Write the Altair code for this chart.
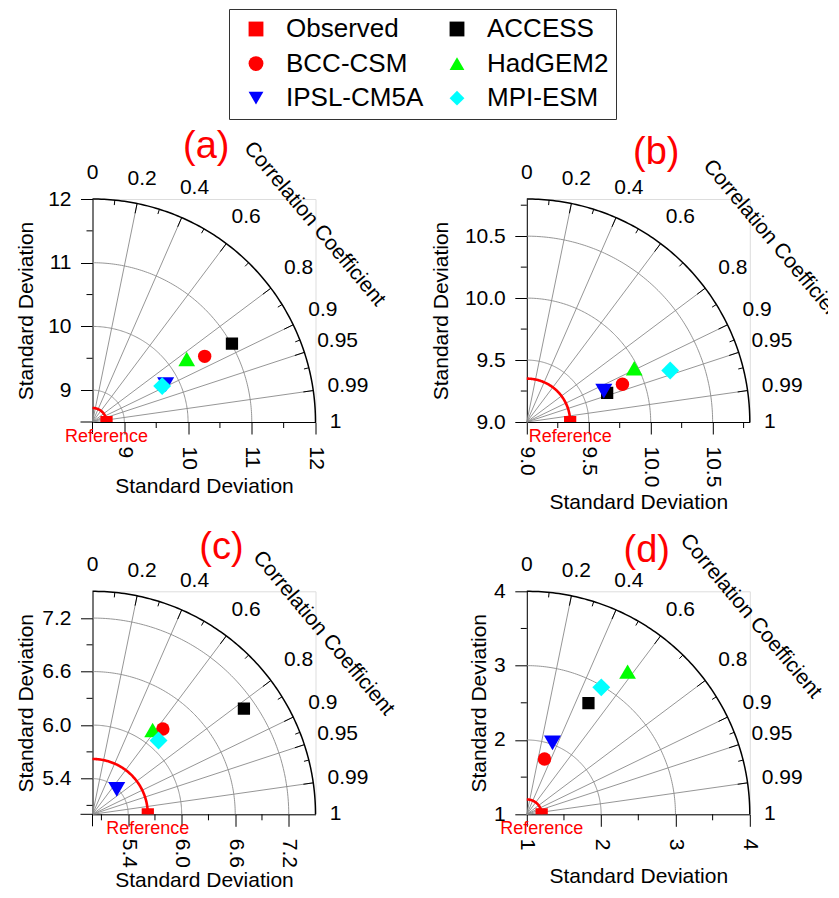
import numpy as np
import pandas as pd
import altair as alt

FONT = "Liberation Sans"
R = 223.0  # plot-area side in px

# ---------------- data ----------------
panel_names = ["(a)", "(b)", "(c)", "(d)"]
origins = [8.5, 9.0, 5.0, 1.0]
maxima = [12.0, 10.8, 7.5, 4.0]
major_ticks = [[9, 10, 11, 12], [9.0, 9.5, 10.0, 10.5], [5.4, 6.0, 6.6, 7.2], [1, 2, 3, 4]]
minor_ticks = [[9.5, 10.5, 11.5], [9.25, 9.75, 10.25, 10.75], [5.1, 5.7, 6.3, 6.9], [1.5, 2.5, 3.5]]
tick_formats = ["d", ".1f", ".1f", "d"]

observed_sd = [8.72, 9.35, 5.62, 1.2]
models = ["ACCESS", "BCC-CSM", "HadGEM2", "IPSL-CM5A", "MPI-ESM"]
model_sd = [
    [11.01, 10.54, 10.28, 9.79, 9.73],
    [9.69, 9.83, 9.97, 9.67, 10.23],
    [7.07, 6.24, 6.16, 5.39, 6.11],
    [2.71, 1.78, 3.35, 2.02, 2.98],
]
model_corr = [
    [0.872, 0.863, 0.831, 0.890, 0.889],
    [0.940, 0.930, 0.894, 0.928, 0.941],
    [0.820, 0.636, 0.581, 0.697, 0.667],
    [0.485, 0.305, 0.577, 0.339, 0.506],
]

corr_labels = ["0", "0.2", "0.4", "0.6", "0.8", "0.9", "0.95", "0.99", "1"]
corr_label_values = [0.0, 0.2, 0.4, 0.6, 0.8, 0.9, 0.95, 0.99, 1.0]
corr_grid = [0.2, 0.4, 0.6, 0.8, 0.9, 0.95, 0.99]
corr_minor = [0.1, 0.3, 0.5, 0.7, 0.85, 0.93, 0.97]

# legend order is column-major (two columns)
legend_order = ["Observed", "BCC-CSM", "IPSL-CM5A", "ACCESS", "HadGEM2", "MPI-ESM"]
draw_order = ["Observed", "ACCESS", "BCC-CSM", "HadGEM2", "IPSL-CM5A", "MPI-ESM"]
series_shapes = {"Observed": "square", "ACCESS": "square", "BCC-CSM": "circle",
                 "HadGEM2": "triangle-up", "IPSL-CM5A": "triangle-down", "MPI-ESM": "diamond"}
series_colors = {"Observed": "#ff0000", "ACCESS": "#000000", "BCC-CSM": "#ff0000",
                 "HadGEM2": "#00ff00", "IPSL-CM5A": "#0000ff", "MPI-ESM": "#00ffff"}
series_sizes = {"Observed": 150, "ACCESS": 150, "BCC-CSM": 180,
                "HadGEM2": 280, "IPSL-CM5A": 290, "MPI-ESM": 320}

# ---------------- layout / style ----------------
label_offsets_px = [26, 25, 32, 33, 34.5, 33, 35, 35, 20]
cc_offsets_px = [(222, 198), (247, 180), (231, 181), (224, 198)]
title_pos_px = [(113.7, 52.5), (129.4, 45.6), (129, 43.2), (120, 40)]
xtitle_y = [53.5, 69, 55, 51.5]
ytitle_x = [-66.5, -85.8, -66.5, -47.5]
long_origin_tick = [True, False, True, False]

legend = alt.Legend(
    title=None, orient="none", legendX=136.5, legendY=-190, columns=2,
    labelFontSize=26, labelFont=FONT, labelColor="black", labelLimit=0,
    strokeColor="#333333", fillColor="white",
    padding=7, rowPadding=8.6, columnPadding=13, labelOffset=17, symbolOffset=7,
    symbolStrokeWidth=0, symbolOpacity=1, symbolSize=220,
)


def panel(i):
    o, m = origins[i], maxima[i]
    span = m - o
    k = R / span
    xs = alt.Scale(domain=[o, m], nice=False, zero=False)
    ys = alt.Scale(domain=[o, m], nice=False, zero=False)
    common = dict(
        values=major_ticks[i], format=tick_formats[i], tickSize=12, tickColor="black",
        domainColor="black", labelColor="black", labelFontSize=21, labelFont=FONT,
        labelFlush=False, labelOverlap=False, grid=False, title="Standard Deviation",
        titleFontSize=21, titleFont=FONT, titleFontWeight="normal", titleColor="black",
    )
    xaxis = alt.Axis(labelAngle=90, labelAlign="left", labelBaseline="middle",
                     labelPadding=12, titleY=xtitle_y[i], titleBaseline="top", **common)
    yaxis = alt.Axis(labelAngle=0, labelPadding=9.5, titleX=ytitle_x[i],
                     titleBaseline="middle", titleAngle=270, **common)

    def X(f):
        return alt.X(f, type="quantitative", scale=xs, axis=xaxis)

    def Y(f):
        return alt.Y(f, type="quantitative", scale=ys, axis=yaxis)

    t = np.linspace(0, np.pi / 2, 121)

    # gray grid: SD arcs + correlation rays
    rows = []
    gid = 0
    for r in major_ticks[i]:
        if o < r < m:
            for j, tt in enumerate(t):
                rows.append(dict(x=o + (r - o) * np.cos(tt), y=o + (r - o) * np.sin(tt), g=gid, i=j))
            gid += 1
    for c in corr_grid:
        s = np.sqrt(1 - c * c)
        rows.append(dict(x=o, y=o, g=gid, i=0))
        rows.append(dict(x=o + span * c, y=o + span * s, g=gid, i=1))
        gid += 1
    grid_df = pd.DataFrame(rows)

    outer_df = pd.DataFrame(dict(x=o + span * np.cos(t), y=o + span * np.sin(t), i=np.arange(len(t))))
    rr = observed_sd[i] - o
    ref_df = pd.DataFrame(dict(x=o + rr * np.cos(t), y=o + rr * np.sin(t), i=np.arange(len(t))))

    # tick marks (arc ticks and minor axis ticks)
    trows = []
    for c, ln in [(c, 10) for c in corr_grid] + [(c, 5) for c in corr_minor]:
        s = np.sqrt(1 - c * c)
        r2 = span - ln / k
        trows.append(dict(x=o + span * c, y=o + span * s, x2=o + r2 * c, y2=o + r2 * s))
    for v in minor_ticks[i]:
        trows.append(dict(x=o - 6 / k, y=v, x2=o, y2=v))
        trows.append(dict(x=v, y=o - 6 / k, x2=v, y2=o))
    if long_origin_tick[i]:
        trows.append(dict(x=o - 12 / k, y=o, x2=o, y2=o))
        trows.append(dict(x=o, y=o - 12 / k, x2=o, y2=o))
    tick_df = pd.DataFrame(trows)

    # correlation labels
    lrows = []
    for lab, c, off in zip(corr_labels, corr_label_values, label_offsets_px):
        s = np.sqrt(max(0.0, 1 - c * c))
        rp = (R + off) / k
        lrows.append(dict(x=o + rp * c, y=o + rp * s, text=lab))
    lab_df = pd.DataFrame(lrows)

    cdx, cdy = cc_offsets_px[i]
    cc_df = pd.DataFrame(dict(x=[o + cdx / k], y=[o + cdy / k], text=["Correlation Coefficient"]))
    refl_df = pd.DataFrame(dict(x=[observed_sd[i]], y=[o - 15 / k], text=["Reference"]))
    tx, ty = title_pos_px[i]
    ttl_df = pd.DataFrame(dict(x=[o + tx / k], y=[m + ty / k], text=[panel_names[i]]))

    names = ["Observed"] + models
    pts = pd.DataFrame(dict(
        series=names,
        sd=[observed_sd[i]] + model_sd[i],
        corr=[1.0] + model_corr[i],
        o=[o] * 6,
        ord=[draw_order.index(n) for n in names],
        sz=[series_sizes[n] for n in names],
    ))

    grid_l = alt.Chart(grid_df).mark_line(color="#8a8a8a", strokeWidth=0.9).encode(
        x=X("x"), y=Y("y"), detail="g:N", order="i:Q")
    outer_l = alt.Chart(outer_df).mark_line(color="black", strokeWidth=1.5).encode(
        x=X("x"), y=Y("y"), order="i:Q")
    ref_l = alt.Chart(ref_df).mark_line(color="red", strokeWidth=2.6).encode(
        x=X("x"), y=Y("y"), order="i:Q")
    tick_l = alt.Chart(tick_df).mark_rule(color="black", strokeWidth=1).encode(
        x=X("x"), y=Y("y"), x2="x2:Q", y2="y2:Q")
    lab_l = alt.Chart(lab_df).mark_text(fontSize=21, font=FONT, color="black",
                                        align="center", baseline="middle").encode(
        x=X("x"), y=Y("y"), text="text:N")
    cc_l = alt.Chart(cc_df).mark_text(fontSize=21, font=FONT, color="black", angle=50,
                                      align="center", baseline="middle").encode(
        x=X("x"), y=Y("y"), text="text:N")
    refl_l = alt.Chart(refl_df).mark_text(fontSize=18, font=FONT, color="red",
                                          align="center", baseline="middle").encode(
        x=X("x"), y=Y("y"), text="text:N")
    ttl_l = alt.Chart(ttl_df).mark_text(fontSize=38, font=FONT, color="red",
                                        align="center", baseline="middle").encode(
        x=X("x"), y=Y("y"), text="text:N")
    pt_l = alt.Chart(pts).transform_calculate(
        px="datum.o + (datum.sd - datum.o) * datum.corr",
        py="datum.o + (datum.sd - datum.o) * sqrt(1 - datum.corr * datum.corr)",
    ).mark_point(filled=True, opacity=1, strokeWidth=0, clip=True).encode(
        x=X("px"), y=Y("py"),
        color=alt.Color("series:N", scale=alt.Scale(domain=legend_order,
                        range=[series_colors[s] for s in legend_order]), legend=legend),
        shape=alt.Shape("series:N", scale=alt.Scale(domain=legend_order,
                        range=[series_shapes[s] for s in legend_order]), legend=legend),
        size=alt.Size("sz:Q", scale=None),
        order=alt.Order("ord:Q"),
    )

    return alt.layer(grid_l, outer_l, ref_l, tick_l, lab_l, cc_l, refl_l, ttl_l, pt_l).properties(
        width=R, height=R)


panels = [panel(i) for i in range(4)]

chart = alt.concat(*panels, columns=2, spacing={"row": 169.3, "column": 211.3}, bounds="flush").properties(
    padding={"left": 6.5, "top": 0, "right": -22, "bottom": 0}
).configure_view(stroke=None).configure(font=FONT)

chart.save("out.html", embed_options={"renderer": "svg", "actions": False})
